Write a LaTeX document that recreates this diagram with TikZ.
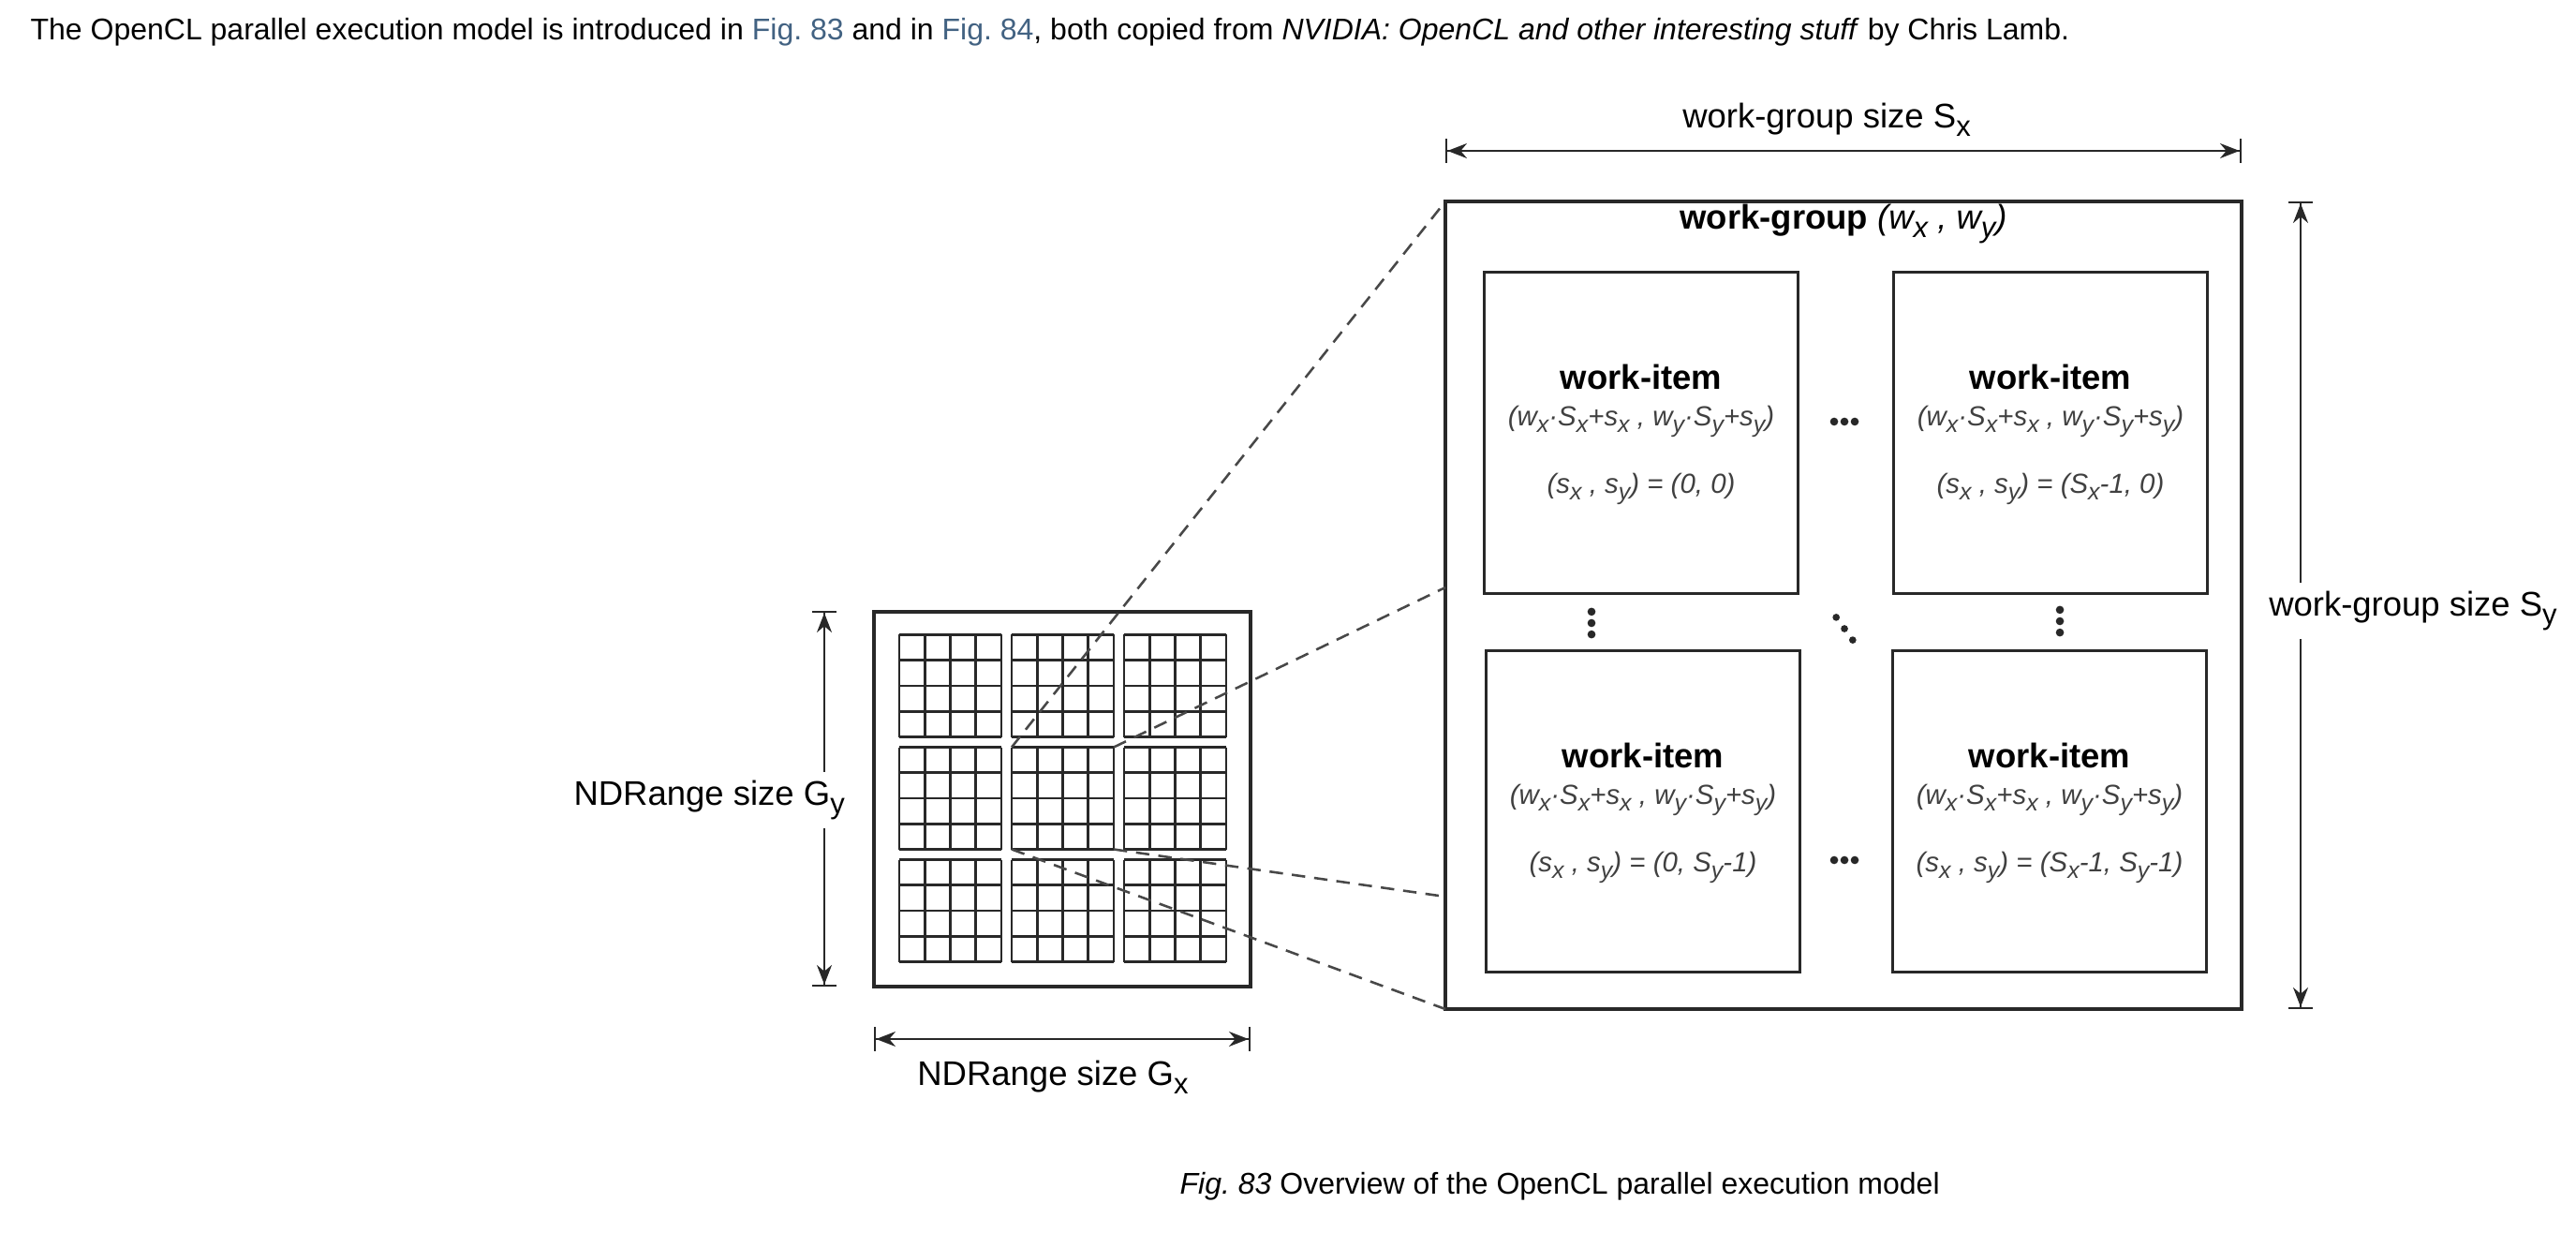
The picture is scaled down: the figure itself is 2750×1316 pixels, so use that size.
\documentclass[tikz,border=0pt]{standalone}
\usepackage{fontspec}
\setmainfont{Liberation Sans}
\usetikzlibrary{arrows.meta,calc}
\definecolor{figlink}{RGB}{66,98,130}
\definecolor{linegray}{RGB}{40,40,40}
\newcommand{\lsub}[1]{\raisebox{-0.45ex}{\scalebox{0.85}{#1}}}

\begin{document}
\begin{tikzpicture}[x=0.3125pt,y=-0.3125pt,
    box/.style={draw=linegray,line width=1.1pt,inner sep=0pt,outer sep=0pt},
    itembox/.style={box,minimum width=104.7pt,minimum height=107.2pt},
    gridline/.style={draw=linegray,line width=0.9pt},
    proj/.style={draw=linegray!85,line width=0.8pt,dash pattern=on 4.5pt off 3pt},
    dimarrow/.style={draw=linegray,line width=0.7pt,arrows={Bar[width=8pt]Stealth[length=6.5pt,width=5pt]-Stealth[length=6.5pt,width=5pt]Bar[width=8pt]}},
    lbl/.style={font=\fontsize{11.4}{13}\selectfont},
    coordtxt/.style={font=\fontsize{9.2}{11}\selectfont\itshape,text=black!75},
    txt/.style={font=\fontsize{10}{12}\selectfont,inner sep=0pt}]

    \useasboundingbox (0,0) rectangle (2750,1316);

    %text above and caption
    \node[txt,anchor=base west] (intro) at (32,43) {The OpenCL parallel execution model is introduced in \textcolor{figlink}{Fig.~83} and in \textcolor{figlink}{Fig.~84}, both copied from \textit{NVIDIA: OpenCL and other interesting stuff} by Chris Lamb.};
    \node[txt,anchor=base west] (caption) at (1259,1274) {\textit{Fig.~83} Overview of the OpenCL parallel execution model};

    %NDRange
    \node[box,minimum width=125.6pt,minimum height=125pt] (ndr) at (1134,853) {};
    \foreach \cx in {1014.5,1134.5,1254.5}
      \foreach \cy in {732,852,972}
      {
        \foreach \k in {0,...,4}
        {
          \draw[gridline] (\cx-54.5+\k*27.25,\cy-54.5) -- (\cx-54.5+\k*27.25,\cy+54.5);
          \draw[gridline] (\cx-54.5,\cy-54.5+\k*27.25) -- (\cx+54.5,\cy-54.5+\k*27.25);
        }
      }
    \node[minimum size=34.06pt,inner sep=0pt,outer sep=0pt] (sel) at (1134.5,852) {};%selected work-group

    %work-group
    \node[box,minimum width=265.6pt,minimum height=269.4pt] (wg) at (1968,646) {};
    \node[lbl,anchor=base] (wgname) at (1968,245) {\textbf{work-group} \textit{(w\lsub{x} , w\lsub{y})}};

    %work-items
    \node[itembox] (wi1) at (1752,462) {};
    \node[itembox] (wi2) at (2189,462) {};
    \node[itembox] (wi3) at (1754,866) {};
    \node[itembox] (wi4) at (2188,866) {};

    \node[lbl] (wi1name) at ($(wi1)+(0,-60)$) {\textbf{work-item}};
    \node[coordtxt] (wi1glob) at ($(wi1)+(0,-12)$) {(w\lsub{x}·S\lsub{x}+s\lsub{x} , w\lsub{y}·S\lsub{y}+s\lsub{y})};
    \node[coordtxt] (wi1loc) at ($(wi1)+(0,60)$) {(s\lsub{x} , s\lsub{y}) = (0, 0)};

    \node[lbl] (wi2name) at ($(wi2)+(0,-60)$) {\textbf{work-item}};
    \node[coordtxt] (wi2glob) at ($(wi2)+(0,-12)$) {(w\lsub{x}·S\lsub{x}+s\lsub{x} , w\lsub{y}·S\lsub{y}+s\lsub{y})};
    \node[coordtxt] (wi2loc) at ($(wi2)+(0,60)$) {(s\lsub{x} , s\lsub{y}) = (S\lsub{x}-1, 0)};

    \node[lbl] (wi3name) at ($(wi3)+(0,-60)$) {\textbf{work-item}};
    \node[coordtxt] (wi3glob) at ($(wi3)+(0,-12)$) {(w\lsub{x}·S\lsub{x}+s\lsub{x} , w\lsub{y}·S\lsub{y}+s\lsub{y})};
    \node[coordtxt] (wi3loc) at ($(wi3)+(0,60)$) {(s\lsub{x} , s\lsub{y}) = (0, S\lsub{y}-1)};

    \node[lbl] (wi4name) at ($(wi4)+(0,-60)$) {\textbf{work-item}};
    \node[coordtxt] (wi4glob) at ($(wi4)+(0,-12)$) {(w\lsub{x}·S\lsub{x}+s\lsub{x} , w\lsub{y}·S\lsub{y}+s\lsub{y})};
    \node[coordtxt] (wi4loc) at ($(wi4)+(0,60)$) {(s\lsub{x} , s\lsub{y}) = (S\lsub{x}-1, S\lsub{y}-1)};

    %dots
    \foreach \d in {-11,0,11}
    {
      \fill[linegray] (1969+\d,450) circle (1.35pt);%row 1
      \fill[linegray] (1969+\d,918) circle (1.35pt);%row 2
      \fill[linegray] (1699,665+1.1*\d) circle (1.35pt);%column 1
      \fill[linegray] (2199,663+1.1*\d) circle (1.35pt);%column 2
      \fill[linegray] (1969+0.8*\d,671+1.1*\d) circle (1.2pt);%diagonal
    }

    %sizes
    \coordinate (sxl) at (1543,161);
    \coordinate (sxr) at (2393,161);
    \draw[dimarrow] (sxl) -- (sxr);
    \node[lbl,anchor=base] (sxlbl) at (1950,137) {work-group size S\lsub{x}};

    \coordinate (syt) at (2456,215);
    \coordinate (syb) at (2456,1077);
    \draw[dimarrow] (syt) -- (syb);
    \node[lbl,fill=white,inner sep=3pt,anchor=west] (sylbl) at (2412,652) {work-group size S\lsub{y}};

    \coordinate (gyt) at (880,652);
    \coordinate (gyb) at (880,1053);
    \draw[dimarrow] (gyt) -- (gyb);
    \node[lbl,fill=white,inner sep=3pt,anchor=east] (gylbl) at (912,854) {NDRange size G\lsub{y}};

    \coordinate (gxl) at (933,1109);
    \coordinate (gxr) at (1335,1109);
    \draw[dimarrow] (gxl) -- (gxr);
    \node[lbl] (gxlbl) at (1124,1150) {NDRange size G\lsub{x}};

    %projection
    \coordinate (wgA) at (1543,627);
    \coordinate (wgB) at (1543,957);
    \draw[proj] (sel.north west) -- (wg.north west);
    \draw[proj] (sel.north east) -- (wgA);
    \draw[proj] (sel.south west) -- (wg.south west);
    \draw[proj] (sel.south east) -- (wgB);

\end{tikzpicture}
\end{document}
